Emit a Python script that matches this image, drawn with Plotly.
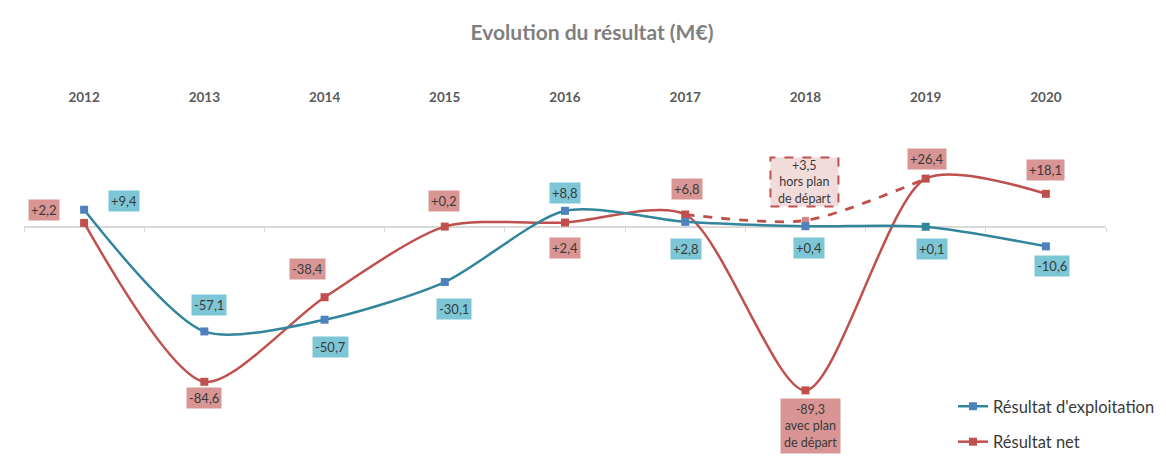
import plotly.graph_objects as go

# ---------------- data ----------------
years = ["2012", "2013", "2014", "2015", "2016", "2017", "2018", "2019", "2020"]
exploitation = [9.4, -57.1, -50.7, -30.1, 8.8, 2.8, 0.4, 0.1, -10.6]
net = [2.2, -84.6, -38.4, 0.2, 2.4, 6.8, -89.3, 26.4, 18.1]
net_hors_plan = [None, None, None, None, None, 6.8, 3.5, 26.4, None]
net_2018_note = "avec plan<br>de départ"
hors_plan_note = "hors plan<br>de départ"

# ---------------- styles ----------------
FONT = "Lato"
TEXT = "#3A3A3A"
TEAL = "#31859C"
BLUE = "#4F81BD"
RED = "#C0504D"
TEAL_BG = "#7DC6D6"
PINK_BG = "#D99594"
LIGHT_PINK = "#F2DCDB"
SMOOTH = 0.75

# page body has an 8px margin -> figure is 8px smaller each way
W, H = 1158, 451
ML, MR, MT, MB = 16, 60, 102, 0
PLOT_W = W - ML - MR
PLOT_H = H - MT - MB

y_min, y_max = -126.8, 63.9
x_idx = list(range(len(years)))


def fr(v):
    return f"{v:+.1f}".replace(".", ",")


fig = go.Figure()

# dashed "hors plan de départ" line
fig.add_trace(go.Scatter(
    x=x_idx, y=net_hors_plan, mode="lines+markers",
    line=dict(color=RED, width=2.8, dash="dash", shape="spline", smoothing=SMOOTH),
    marker=dict(symbol="square", size=[0, 0, 0, 0, 0, 0, 8, 0, 0], color=RED),
    showlegend=False, hoverinfo="skip", connectgaps=False,
))

fig.add_trace(go.Scatter(
    x=x_idx, y=net, mode="lines+markers", name="Résultat net",
    line=dict(color=RED, width=2.5, shape="spline", smoothing=SMOOTH),
    marker=dict(symbol="square", size=8, color=RED),
    legendgroup="b", legendrank=2, hoverinfo="skip",
))

expl_marker_colors = [BLUE] * len(years)
expl_marker_colors[7] = TEAL
fig.add_trace(go.Scatter(
    x=x_idx, y=exploitation, mode="lines+markers", name="Résultat d'exploitation",
    line=dict(color=TEAL, width=2.5, shape="spline", smoothing=SMOOTH),
    marker=dict(symbol="square", size=8, color=expl_marker_colors),
    legendgroup="a", legendrank=1, hoverinfo="skip",
))

# ---------------- data labels ----------------
expl_offsets = [(40, 9), (5, 26), (6, -27), (9, -27), (0, 18), (1, -27), (4, -22), (6, -22), (6, -20)]
net_offsets = [(-40, 13), (0, -16), (-17, 28), (-1, 26), (0, -25), (2, 26), (5, -36), (1, 20), (0, 24)]

annotations = []
for i, v in enumerate(exploitation):
    dx, dy = expl_offsets[i]
    annotations.append(dict(
        x=i, y=v, xref="x", yref="y", text=fr(v), showarrow=False,
        xshift=dx, yshift=dy, bgcolor=TEAL_BG, borderpad=2,
        font=dict(family=FONT, size=13, color=TEXT),
    ))
for i, v in enumerate(net):
    dx, dy = net_offsets[i]
    txt = fr(v)
    pad = 2
    size = 13
    if i == 6:
        txt = txt + "<br>" + net_2018_note
        pad = 3
        size = 12.5
    annotations.append(dict(
        x=i, y=v, xref="x", yref="y", text=txt, showarrow=False,
        xshift=dx, yshift=dy, bgcolor=PINK_BG, borderpad=pad,
        font=dict(family=FONT, size=size, color=TEXT),
    ))

# hors plan label (dashed box)
hp_i = 6
hp_v = net_hors_plan[hp_i]
annotations.append(dict(
    x=hp_i, y=hp_v, xref="x", yref="y", text=fr(hp_v) + "<br>" + hors_plan_note,
    showarrow=False, yshift=39, xshift=-1,
    font=dict(family=FONT, size=12.5, color=TEXT),
))

shapes = [
    dict(type="rect", xref="x", yref="y", xsizemode="pixel", ysizemode="pixel",
         xanchor=hp_i, yanchor=hp_v, x0=-35, x1=33, y0=14, y1=63,
         fillcolor=LIGHT_PINK, line=dict(color=RED, width=2, dash="dash"), layer="below"),
]

zero_pos = (0 - y_min) / (y_max - y_min)

fig.update_layout(
    width=W, height=H,
    margin=dict(l=ML, r=MR, t=MT, b=MB, autoexpand=False),
    paper_bgcolor="white", plot_bgcolor="white",
    title=dict(text="<b>Evolution du résultat (M€)</b>", x=(592 - 8) / W, xanchor="center",
               y=1 - 25 / H, yanchor="middle",
               font=dict(family=FONT, size=21, color="#7F7F7F")),
    font=dict(family=FONT, color=TEXT),
    xaxis=dict(range=[-0.5, 8.5], side="top", tickmode="array", tickvals=x_idx,
               ticktext=[f"<b>{y}</b>" for y in years], showgrid=False, zeroline=False,
               showline=False, ticks="", tickfont=dict(family=FONT, size=13.5, color="#595959"),
               ticklabelstandoff=4),
    xaxis2=dict(range=[-0.5, 8.5], overlaying="x", anchor="free", position=zero_pos, side="bottom",
                showline=True, linecolor="#D9D9D9", linewidth=1.5, ticks="outside", ticklen=4,
                tickcolor="#D9D9D9", tickmode="array", tickvals=[i - 0.5 for i in range(len(years) + 1)],
                showticklabels=False, showgrid=False, zeroline=False, layer="below traces"),
    yaxis=dict(range=[y_min, y_max], showgrid=False, zeroline=False, showticklabels=False,
               showline=False, ticks=""),
    legend=dict(x=(945 - ML) / PLOT_W, y=0, xanchor="left", yanchor="bottom",
                font=dict(family=FONT, size=16.5, color=TEXT), traceorder="grouped",
                tracegroupgap=11, bgcolor="rgba(0,0,0,0)"),
    annotations=annotations,
    shapes=shapes,
    showlegend=True,
)

# invisible trace to activate xaxis2
fig.add_trace(go.Scatter(x=[None], y=[None], xaxis="x2", showlegend=False, hoverinfo="skip"))

fig.write_html("out.html")
